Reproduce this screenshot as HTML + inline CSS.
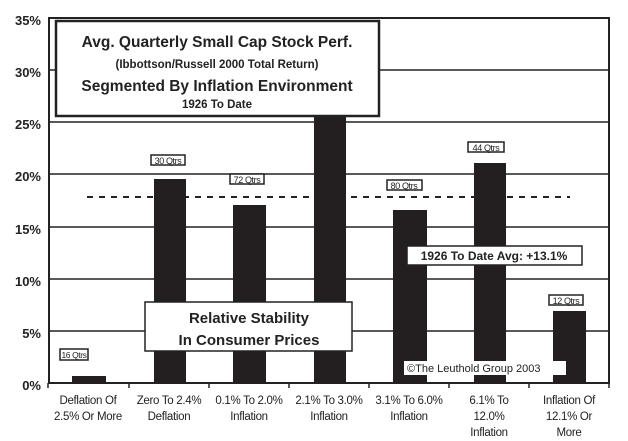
<!DOCTYPE html>
<html><head><style>
html,body{margin:0;padding:0;background:#fff;}
svg{display:block;font-family:"Liberation Sans",Arial,sans-serif;}
</style></head><body>
<svg width="628" height="441" viewBox="0 0 628 441" xmlns="http://www.w3.org/2000/svg">
<g stroke="#222" stroke-width="1.5">
<line x1="48" y1="70" x2="609" y2="70"/>
<line x1="48" y1="122" x2="609" y2="122"/>
<line x1="48" y1="174" x2="609" y2="174"/>
<line x1="48" y1="227" x2="609" y2="227"/>
<line x1="48" y1="279" x2="609" y2="279"/>
<line x1="48" y1="331" x2="609" y2="331"/>
</g>
<rect x="49" y="18" width="560" height="365" fill="none" stroke="#222" stroke-width="2"/>
<g stroke="#222" stroke-width="1.5">
<line x1="48" y1="383" x2="48" y2="388"/><line x1="129" y1="383" x2="129" y2="388"/>
<line x1="209" y1="383" x2="209" y2="388"/><line x1="289" y1="383" x2="289" y2="388"/>
<line x1="369" y1="383" x2="369" y2="388"/><line x1="449" y1="383" x2="449" y2="388"/>
<line x1="529" y1="383" x2="529" y2="388"/><line x1="609" y1="383" x2="609" y2="388"/>
</g>
<g font-size="13" font-weight="bold" fill="#222" text-anchor="end">
<text x="41" y="25">35%</text><text x="41" y="77">30%</text><text x="41" y="129">25%</text>
<text x="41" y="181">20%</text><text x="41" y="234">15%</text><text x="41" y="286">10%</text>
<text x="41" y="338">5%</text><text x="41" y="390">0%</text>
</g>
<g fill="#231f20">
<rect x="72" y="376" width="34" height="7"/>
<rect x="154" y="179" width="32" height="204"/>
<rect x="233" y="205" width="33" height="178"/>
<rect x="314" y="115" width="32" height="268"/>
<rect x="393" y="210" width="34" height="173"/>
<rect x="474" y="163" width="32" height="220"/>
<rect x="553" y="311" width="33" height="72"/>
</g>
<line x1="87" y1="197" x2="570" y2="197" stroke="#222" stroke-width="2" stroke-dasharray="6,6"/>
<g fill="#fff" stroke="#222" stroke-width="1.5">
<rect x="60" y="349" width="28" height="11"/>
<rect x="151" y="155" width="34" height="10"/>
<rect x="230" y="174" width="34" height="10"/>
<rect x="309" y="101" width="35" height="10"/>
<rect x="387" y="180" width="35" height="10"/>
<rect x="468" y="142" width="36" height="10"/>
<rect x="549" y="295" width="34" height="10"/>
</g>
<g font-size="9" fill="#222" text-anchor="middle" letter-spacing="-0.4">
<text x="74" y="358" font-size="8.5">16 Qtrs</text><text x="168" y="164">30 Qtrs</text>
<text x="247" y="183">72 Qtrs</text><text x="326" y="110">53 Qtrs</text>
<text x="404" y="189">80 Qtrs</text><text x="486" y="151">44 Qtrs</text>
<text x="566" y="304">12 Qtrs</text>
</g>
<rect x="56" y="21" width="323" height="95" fill="#fff" stroke="#222" stroke-width="2.5"/>
<g fill="#222" text-anchor="middle" font-weight="bold">
<text x="217" y="47" font-size="15.5">Avg. Quarterly Small Cap Stock Perf.</text>
<text x="217" y="68" font-size="11.5">(Ibbottson/Russell 2000 Total Return)</text>
<text x="217" y="91" font-size="15.5">Segmented By Inflation Environment</text>
<text x="217" y="108" font-size="11.5">1926 To Date</text>
</g>
<rect x="407" y="246" width="175" height="19" fill="#fff" stroke="#222" stroke-width="1.5"/>
<text x="494" y="260" font-size="12" font-weight="bold" fill="#222" text-anchor="middle">1926 To Date Avg: +13.1%</text>
<rect x="145" y="302" width="207" height="49" fill="#fff" stroke="#222" stroke-width="1.5"/>
<g fill="#222" text-anchor="middle" font-weight="bold" font-size="15">
<text x="249" y="323">Relative Stability</text><text x="249" y="345">In Consumer Prices</text>
</g>
<rect x="404" y="361" width="162" height="14" fill="#fff"/>
<text x="407" y="372" font-size="11" fill="#222">©The Leuthold Group 2003</text>
<g font-size="11.5" fill="#222" text-anchor="middle" letter-spacing="-0.3">
<text x="88" y="404">Deflation Of</text><text x="88" y="420">2.5% Or More</text>
<text x="169" y="404">Zero To 2.4%</text><text x="169" y="420">Deflation</text>
<text x="249" y="404">0.1% To 2.0%</text><text x="249" y="420">Inflation</text>
<text x="329" y="404">2.1% To 3.0%</text><text x="329" y="420">Inflation</text>
<text x="409" y="404">3.1% To 6.0%</text><text x="409" y="420">Inflation</text>
<text x="489" y="404">6.1% To</text><text x="489" y="420">12.0%</text><text x="489" y="436">Inflation</text>
<text x="569" y="404">Inflation Of</text><text x="569" y="420">12.1% Or</text><text x="569" y="436">More</text>
</g>
</svg>
</body></html>
